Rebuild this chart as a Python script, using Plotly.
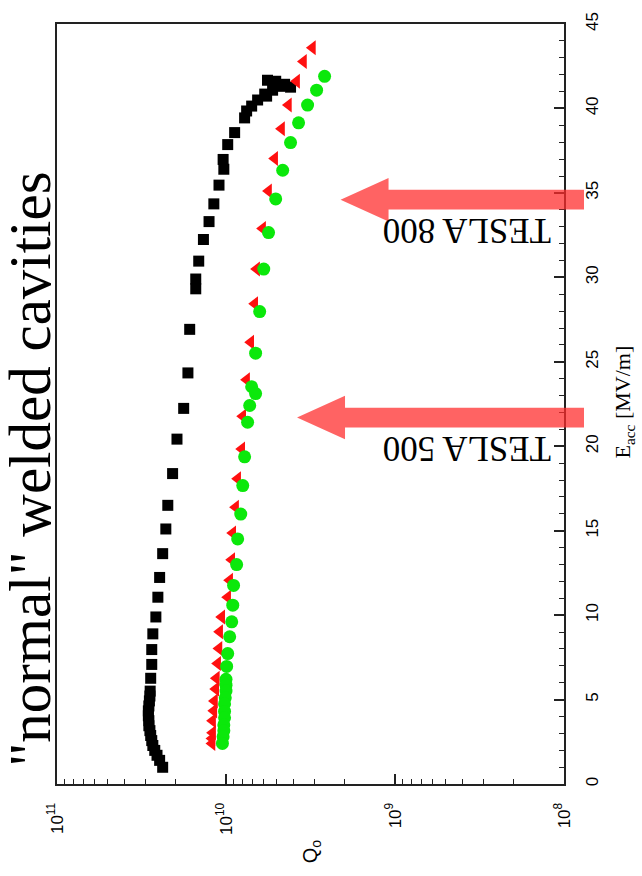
import math
import plotly.graph_objects as go

# Q0 versus accelerating gradient for three welded 9-cell cavities
e_black = [0.99, 1.40, 1.70, 1.99, 2.28, 2.57, 2.87, 3.16, 3.45, 3.75, 4.04, 4.33, 4.62, 4.92,
           5.21, 5.50, 6.26, 7.08, 7.96, 8.89, 9.89, 11.06, 12.23, 13.64, 15.10, 16.50, 18.38,
           20.42, 22.24, 24.34, 26.92, 29.32, 29.90, 30.96, 32.24, 33.30, 34.35, 35.46, 36.40,
           36.98, 37.86, 38.57, 39.44, 39.85, 40.14, 40.50, 40.73, 41.08, 41.31, 41.43, 41.67,
           41.61, 41.37, 41.26, 40.85]
q_black = [2.37e10, 2.47e10, 2.56e10, 2.64e10, 2.71e10, 2.75e10, 2.79e10, 2.82e10, 2.86e10,
           2.86e10, 2.88e10, 2.88e10, 2.86e10, 2.84e10, 2.82e10, 2.81e10, 2.79e10, 2.75e10,
           2.75e10, 2.71e10, 2.60e10, 2.53e10, 2.47e10, 2.37e10, 2.27e10, 2.21e10, 2.07e10,
           1.95e10, 1.78e10, 1.68e10, 1.64e10, 1.51e10, 1.51e10, 1.45e10, 1.36e10, 1.26e10,
           1.18e10, 1.10e10, 1.03e10, 1.04e10, 9.77e9, 8.89e9, 7.76e9, 7.55e9, 7.05e9, 6.50e9,
           5.75e9, 5.30e9, 4.82e9, 4.50e9, 5.68e9, 5.08e9, 4.56e9, 4.15e9, 5.90e9]

e_red = [43.60, 42.78, 41.61, 40.20, 38.80, 37.04, 35.11, 32.89, 30.49, 28.44, 26.16, 23.93,
         21.77, 19.84, 18.08, 16.39, 14.86, 13.28, 12.06, 11.06, 9.89, 9.01, 8.02, 7.14, 6.26,
         5.62, 4.92, 4.33, 3.75, 3.04, 2.70, 2.40]
q_red = [3.08e9, 3.48e9, 3.82e9, 4.27e9, 4.69e9, 5.15e9, 5.60e9, 6.07e9, 6.59e9, 6.76e9,
         7.14e9, 7.55e9, 7.96e9, 8.07e9, 8.53e9, 8.77e9, 9.12e9, 9.25e9, 9.51e9, 9.77e9,
         1.06e10, 1.09e10, 1.10e10, 1.12e10, 1.14e10, 1.15e10, 1.17e10, 1.18e10, 1.20e10,
         1.20e10, 1.21e10, 1.21e10]

e_green = [41.90, 41.08, 40.20, 39.15, 37.98, 36.34, 34.64, 32.65, 30.49, 27.97, 25.51, 23.52,
           23.12, 22.41, 21.42, 19.37, 17.67, 15.98, 14.51, 12.99, 11.76, 10.59, 9.60, 8.72,
           7.72, 6.96, 6.20, 5.85, 5.50, 5.10, 4.74, 4.30, 3.92, 3.50, 3.16, 2.80, 2.40]
q_green = [2.61e9, 2.91e9, 3.29e9, 3.72e9, 4.15e9, 4.62e9, 5.08e9, 5.60e9, 5.98e9, 6.32e9,
           6.68e9, 7.05e9, 6.68e9, 7.24e9, 7.45e9, 7.76e9, 7.96e9, 8.18e9, 8.53e9, 8.65e9,
           9.02e9, 9.12e9, 9.25e9, 9.51e9, 9.77e9, 9.91e9, 1.00e10, 1.00e10, 1.00e10, 1.01e10,
           1.02e10, 1.02e10, 1.02e10, 1.03e10, 1.03e10, 1.04e10, 1.05e10]

# design gradients of the two TESLA options
arrow_labels = ["TESLA 800", "TESLA 500"]
arrow_e = [34.6, 21.7]
arrow_tip_q = [2.1e9, 3.8e9]

q_ticks = [1e11, 1e10, 1e9, 1e8]
q_ticktext = ["10<sup>11</sup>", "10<sup>10</sup>", "10<sup>9</sup>", "10<sup>8</sup>"]
e_ticks = [0, 5, 10, 15, 20, 25, 30, 35, 40, 45]

Q_RANGE = [11, 8]   # log10, reversed
E_RANGE = [0, 45]

W, H = 642, 876
M = dict(l=57, r=78, t=15, b=92)
PW = W - M["l"] - M["r"]
PH = H - M["t"] - M["b"]
X0, Y0 = M["l"], H - M["b"]   # pixel position of the plot's lower-left corner

fig = go.Figure()
fig.add_trace(go.Scatter(x=q_black, y=e_black, mode="markers",
                         marker=dict(symbol="square", size=11, color="black")))
fig.add_trace(go.Scatter(x=q_red, y=e_red, mode="markers",
                         marker=dict(symbol="triangle-left", size=13, color="#ff1010")))
fig.add_trace(go.Scatter(x=q_green, y=e_green, mode="markers",
                         marker=dict(symbol="circle", size=13, color="#0be80b")))


def q_to_paper(q):
    return (Q_RANGE[0] - math.log10(q)) / (Q_RANGE[0] - Q_RANGE[1])


def e_to_paper(e):
    return (e - E_RANGE[0]) / (E_RANGE[1] - E_RANGE[0])


def px_x(px):
    return (px - X0) / PW


def px_y(py):
    return (Y0 - py) / PH


# thick arrows: head and shaft in pixel sizes converted to paper units
head_len, head_half, shaft_half, overhang = 48, 22, 10, 20
shapes = []
annotations = []
for label, e, q in zip(arrow_labels, arrow_e, arrow_tip_q):
    tx, ty = q_to_paper(q), e_to_paper(e)
    bx = tx + head_len / PW
    ex = 1 + overhang / PW
    hh, sh = head_half / PH, shaft_half / PH
    path = (f"M{tx},{ty} L{bx},{ty + hh} L{bx},{ty + sh} L{ex},{ty + sh} "
            f"L{ex},{ty - sh} L{bx},{ty - sh} L{bx},{ty - hh} Z")
    shapes.append(dict(type="path", xref="paper", yref="paper", path=path,
                       fillcolor="rgba(255,45,45,0.74)", line=dict(width=0), layer="above"))
    annotations.append(dict(text=label, xref="paper", yref="paper",
                            x=px_x(467), y=ty, yshift=-31,
                            xanchor="center", yanchor="middle",
                            showarrow=False, textangle=180,
                            font=dict(family="Liberation Serif", size=35, color="black")))

annotations.append(dict(text='"normal" welded cavities', xref="paper", yref="paper",
                        x=px_x(30), y=px_y(466),
                        showarrow=False, textangle=-90, xanchor="center", yanchor="middle",
                        font=dict(family="Liberation Serif", size=59, color="black")))
annotations.append(dict(text="E<sub>acc</sub> [MV/m]", xref="paper", yref="paper",
                        x=px_x(624), y=px_y(398),
                        showarrow=False, textangle=-90, xanchor="center", yanchor="middle",
                        font=dict(family="Liberation Serif", size=22, color="black")))
annotations.append(dict(text="Q<sub>o</sub>", xref="paper", yref="paper",
                        x=px_x(311), y=px_y(852),
                        showarrow=False, textangle=-90, xanchor="center", yanchor="middle",
                        font=dict(family="Liberation Sans", size=20, color="black")))

minor_q = [m * 10 ** d for d in (8, 9, 10) for m in range(2, 10)]
tick_font = dict(family="Liberation Sans", size=17, color="black")

fig.update_layout(
    width=W, height=H, margin=M, showlegend=False,
    paper_bgcolor="white", plot_bgcolor="white",
    shapes=shapes, annotations=annotations,
    xaxis=dict(type="log", range=Q_RANGE, tickvals=q_ticks, ticktext=q_ticktext,
               tickangle=-90, ticks="inside", ticklen=10, tickwidth=1.5, tickcolor="#222",
               minor=dict(tickvals=minor_q, ticks="inside", ticklen=5, tickwidth=1.2,
                          tickcolor="#222"),
               showline=True, mirror=True, linecolor="#222", linewidth=2,
               showgrid=False, zeroline=False, ticklabelstandoff=10, tickfont=tick_font),
    yaxis=dict(range=E_RANGE, side="right", tickvals=e_ticks, tickangle=-90,
               ticks="inside", ticklen=10, tickwidth=1.5, tickcolor="#222",
               minor=dict(dtick=1, ticks="inside", ticklen=5, tickwidth=1.2, tickcolor="#222"),
               showline=True, mirror=True, linecolor="#222", linewidth=2,
               showgrid=False, zeroline=False, ticklabelstandoff=12, tickfont=tick_font),
)

fig.write_html("out.html")
